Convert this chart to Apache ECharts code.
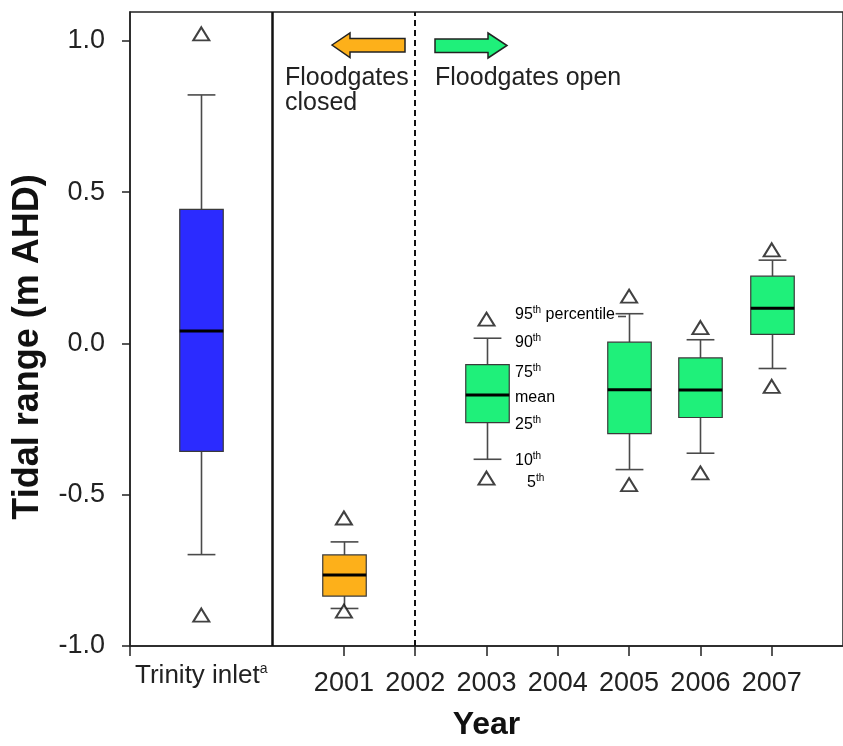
<!DOCTYPE html>
<html>
<head>
<meta charset="utf-8">
<script src="https://cdn.jsdelivr.net/npm/echarts@6/dist/echarts.min.js"></script>
<style>
  html, body { margin: 0; padding: 0; background: #fff; }
  #chart { width: 843px; height: 746px; }
</style>
</head>
<body>
<div id="chart"></div>
<script>
// Tidal range statistics per site/year (m AHD)
const groups   = ['Trinity inlet', '2001', '2003', '2005', '2006', '2007'];
const xPos     = [1999, 2001, 2003, 2005, 2006, 2007];
const p5       = [-0.898, -0.885, -0.445, -0.467, -0.428, -0.142];
const p10      = [-0.698, -0.876, -0.383, -0.417, -0.363, -0.083];
const p25      = [-0.357, -0.835, -0.262, -0.298, -0.245,  0.030];
const meanVals = [ 0.041, -0.765, -0.171, -0.153, -0.154,  0.116];
const p75      = [ 0.443, -0.699, -0.070,  0.004, -0.048,  0.222];
const p90      = [ 0.821, -0.656,  0.017,  0.098,  0.012,  0.275];
const p95      = [ 1.023, -0.577,  0.080,  0.156,  0.052,  0.309];

const yearTicks  = [2001, 2002, 2003, 2004, 2005, 2006, 2007];
const yTicks     = [-1.0, -0.5, 0.0, 0.5, 1.0];
const boxColors  = ['#2b2bff', '#fdb01a', '#1ff07a', '#1ff07a', '#1ff07a', '#1ff07a'];

const FONT = "'Liberation Sans', Arial, Helvetica, sans-serif";
const BOX_W = 0.61;
const CAP_W = 0.39;

const chart = echarts.init(document.getElementById('chart'));

const boxData = xPos.map((x, i) => [x, p10[i], p25[i], meanVals[i], p75[i], p90[i]]);
const outlierData = [];
xPos.forEach((x, i) => { outlierData.push([x, p5[i]]); outlierData.push([x, p95[i]]); });

function renderBox(params, api) {
  const x = api.value(0);
  const lo = api.coord([x, api.value(1)]);
  const q1 = api.coord([x, api.value(2)]);
  const m  = api.coord([x, api.value(3)]);
  const q3 = api.coord([x, api.value(4)]);
  const hi = api.coord([x, api.value(5)]);
  const bw = api.size([BOX_W, 0])[0];
  const cw = api.size([CAP_W, 0])[0];
  const cx = Math.round(q1[0]) + 0.5;
  const wStyle = { stroke: '#4a4a4a', lineWidth: 1.6 };
  return {
    type: 'group',
    children: [
      { type: 'line', shape: { x1: cx, y1: q3[1], x2: cx, y2: hi[1] }, style: wStyle },
      { type: 'line', shape: { x1: cx, y1: q1[1], x2: cx, y2: lo[1] }, style: wStyle },
      { type: 'line', shape: { x1: cx - cw / 2, y1: hi[1], x2: cx + cw / 2, y2: hi[1] }, style: wStyle },
      { type: 'line', shape: { x1: cx - cw / 2, y1: lo[1], x2: cx + cw / 2, y2: lo[1] }, style: wStyle },
      { type: 'rect', shape: { x: cx - bw / 2, y: q3[1], width: bw, height: q1[1] - q3[1] },
        style: { fill: boxColors[params.dataIndex], stroke: '#3a3a3a', lineWidth: 1.2 } },
      { type: 'line', shape: { x1: cx - bw / 2, y1: m[1], x2: cx + bw / 2, y2: m[1] },
        style: { stroke: '#000', lineWidth: 3 } }
    ]
  };
}

const supRich = {
  n: { fontFamily: FONT, fontSize: 16, color: '#222', lineHeight: 19 },
  s: { fontFamily: FONT, fontSize: 10, color: '#222', lineHeight: 11, verticalAlign: 'top' }
};
function keyText(x, y, text) {
  return { type: 'text', x: x, y: y, style: { text: text, rich: supRich, verticalAlign: 'middle', align: 'left' } };
}

const option = {
  backgroundColor: '#fff',
  animation: false,
  grid: {
    left: 130, top: 12, width: 725, height: 639,
    show: true, borderColor: '#222', borderWidth: 1.5, backgroundColor: 'transparent'
  },
  xAxis: [{
    type: 'value', min: 1998, max: 2008, interval: 1,
    splitLine: { show: false },
    axisLine: { show: true, onZero: false, lineStyle: { color: '#222', width: 1.5 } },
    axisTick: { show: true, length: 10, customValues: [1998].concat(yearTicks), lineStyle: { color: '#222', width: 1.5 } },
    axisLabel: {
      customValues: yearTicks, margin: 24,
      fontFamily: FONT, fontSize: 27, color: '#222',
      formatter: v => String(v)
    },
    name: 'Year', nameLocation: 'middle', nameGap: 63,
    nameTextStyle: { fontFamily: FONT, fontSize: 32, fontWeight: 'bold', color: '#111' }
  }, {
    type: 'value', min: 1998, max: 2008, position: 'bottom',
    splitLine: { show: false }, axisLine: { show: false }, axisTick: { show: false },
    axisLabel: {
      customValues: [xPos[0]], margin: 16,
      formatter: () => '{t|' + groups[0] + '}{a|a}',
      rich: {
        t: { fontFamily: FONT, fontSize: 26, color: '#222', lineHeight: 28 },
        a: { fontFamily: FONT, fontSize: 14, color: '#222', lineHeight: 14, verticalAlign: 'top' }
      }
    }
  }],
  yAxis: {
    type: 'value', min: -1.0, max: 1.095,
    splitLine: { show: false },
    axisLine: { show: true, onZero: false, lineStyle: { color: '#222', width: 1.5 } },
    axisTick: { show: true, length: 8, customValues: yTicks, lineStyle: { color: '#222', width: 1.5 } },
    axisLabel: {
      customValues: yTicks, margin: 25,
      fontFamily: FONT, fontSize: 27, color: '#222',
      formatter: v => v.toFixed(1)
    }
  },
  series: [{
    type: 'custom',
    name: 'box',
    renderItem: renderBox,
    data: boxData,
    encode: { x: 0, y: [1, 2, 3, 4, 5] },
    z: 3
  }, {
    type: 'scatter',
    name: 'outliers',
    data: outlierData,
    symbol: 'triangle',
    symbolSize: [16, 13],
    itemStyle: { color: '#fff', borderColor: '#111', borderWidth: 2 },
    z: 4,
    markLine: {
      silent: true, symbol: ['none', 'none'], label: { show: false },
      data: [
        { xAxis: 2000, lineStyle: { color: '#111', width: 2.5, type: 'solid' } },
        { xAxis: 2002, lineStyle: { color: '#111', width: 2, type: [6, 4] } }
      ]
    }
  }],
  graphic: [
    // y-axis title
    { type: 'text', x: 28, y: 347, rotation: Math.PI / 2,
      style: { text: 'Tidal range (m AHD)', fontFamily: FONT, fontSize: 36, fontWeight: 'bold', fill: '#111',
               align: 'center', verticalAlign: 'middle' } },
    // floodgate arrows
    { type: 'polygon', shape: { points: [[332, 45], [350, 33], [350, 38.5], [405, 38.5], [405, 52], [350, 52], [350, 57.5]] },
      style: { fill: '#fdb01a', stroke: '#222', lineWidth: 1.5 } },
    { type: 'polygon', shape: { points: [[435, 39], [488, 39], [488, 33], [507, 45.5], [488, 58], [488, 52.5], [435, 52.5]] },
      style: { fill: '#1ff07a', stroke: '#222', lineWidth: 1.5 } },
    { type: 'text', x: 285, y: 78, style: { text: 'Floodgates', fontFamily: FONT, fontSize: 25, fill: '#222', verticalAlign: 'middle' } },
    { type: 'text', x: 285, y: 103, style: { text: 'closed', fontFamily: FONT, fontSize: 25, fill: '#222', verticalAlign: 'middle' } },
    { type: 'text', x: 435, y: 78, style: { text: 'Floodgates open', fontFamily: FONT, fontSize: 25, fill: '#222', verticalAlign: 'middle' } },
    // percentile key beside the 2003 box
    keyText(515, 315, '{n|95}{s|th}{n| percentile}'),
    { type: 'line', shape: { x1: 618, y1: 316.5, x2: 626, y2: 316.5 }, style: { stroke: '#4a4a4a', lineWidth: 1.6 } },
    keyText(515, 343, '{n|90}{s|th}'),
    keyText(515, 373, '{n|75}{s|th}'),
    keyText(515, 398, '{n|mean}'),
    keyText(515, 425, '{n|25}{s|th}'),
    keyText(515, 461, '{n|10}{s|th}'),
    keyText(527, 483, '{n|5}{s|th}')
  ]
};

chart.setOption(option);
</script>
</body>
</html>
